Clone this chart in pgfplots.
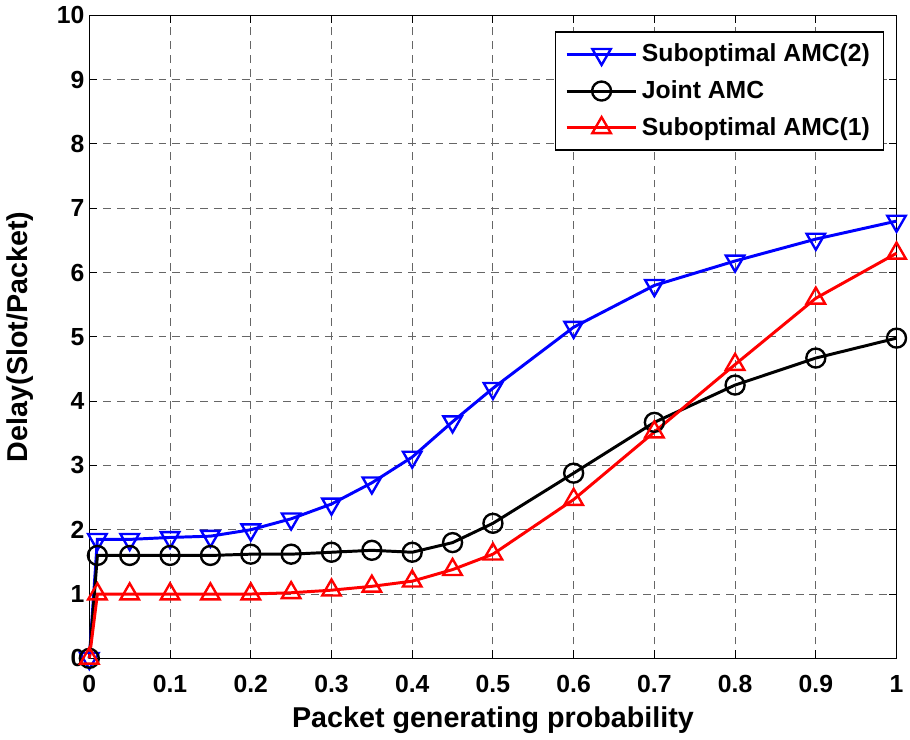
\documentclass[border=0pt]{standalone}
\usepackage{pgfplots}
\pgfplotsset{compat=1.18}
\usepackage{fontspec}
\setmainfont{Liberation Sans}
\begin{document}
\begin{tikzpicture}
\begin{axis}[
  scale only axis,
  width=408pt, height=325pt,
  xmin=0, xmax=1, ymin=0, ymax=10,
  xtick={0,0.1,...,1.0},
  xticklabels={0,0.1,0.2,0.3,0.4,0.5,0.6,0.7,0.8,0.9,1},
  ytick={0,1,...,10},
  tick align=inside,
  tick style={black, line width=0.5pt},
  major tick length=4pt,
  grid=major,
  grid style={dash pattern=on 4pt off 3pt, black!60, line width=0.5pt},
  axis line style={line width=0.7pt},
  /pgf/number format/assume math mode=true,
  ticklabel style={font=\fontsize{12.5}{14}\selectfont\bfseries},
  xticklabel style={yshift=-5pt},
  yticklabel style={xshift=1pt},
  xlabel={Packet generating probability},
  ylabel={Delay(Slot/Packet)},
  label style={font=\fontsize{14.5}{16}\selectfont\bfseries},
  xlabel style={yshift=0pt},
  ylabel style={yshift=5pt},
  legend style={at={(0.985,0.975)}, anchor=north east, draw=black, line width=0.6pt,
    font=\fontsize{12.5}{14}\selectfont\bfseries, row sep=4pt, inner xsep=5pt, inner ysep=4pt},
  legend cell align=left,
  legend image code/.code={\draw[mark repeat=2,mark phase=2,#1] plot coordinates {(0cm,0cm) (0.62cm,0cm) (1.24cm,0cm)};},
  clip=false,
]
\addplot[blue, line width=1.5pt, mark=triangle, mark options={rotate=180, line width=1.2pt, scale=2.7, solid}] coordinates {
(0,0) (0.01,1.85) (0.05,1.85) (0.1,1.88) (0.15,1.9) (0.2,2.0) (0.25,2.17) (0.3,2.4) (0.35,2.73) (0.4,3.13) (0.45,3.68) (0.5,4.2) (0.6,5.15) (0.7,5.8) (0.8,6.18) (0.9,6.52) (1,6.8)};
\addlegendentry{Suboptimal AMC(2)}
\addplot[black, line width=1.5pt, mark=o, mark options={line width=1.2pt, scale=2.4, solid}] coordinates {
(0,0) (0.01,1.6) (0.05,1.6) (0.1,1.6) (0.15,1.6) (0.2,1.62) (0.25,1.62) (0.3,1.65) (0.35,1.68) (0.4,1.65) (0.45,1.8) (0.5,2.1) (0.6,2.88) (0.7,3.67) (0.8,4.25) (0.9,4.67) (1,4.98)};
\addlegendentry{Joint AMC}
\addplot[red, line width=1.5pt, mark=triangle, mark options={line width=1.2pt, scale=2.7, solid}] coordinates {
(0,0) (0.01,1.0) (0.05,1.0) (0.1,1.0) (0.15,1.0) (0.2,1.0) (0.25,1.02) (0.3,1.06) (0.35,1.12) (0.4,1.2) (0.45,1.38) (0.5,1.62) (0.6,2.47) (0.7,3.52) (0.8,4.57) (0.9,5.6) (1,6.3)};
\addlegendentry{Suboptimal AMC(1)}
\end{axis}
\end{tikzpicture}
\end{document}
